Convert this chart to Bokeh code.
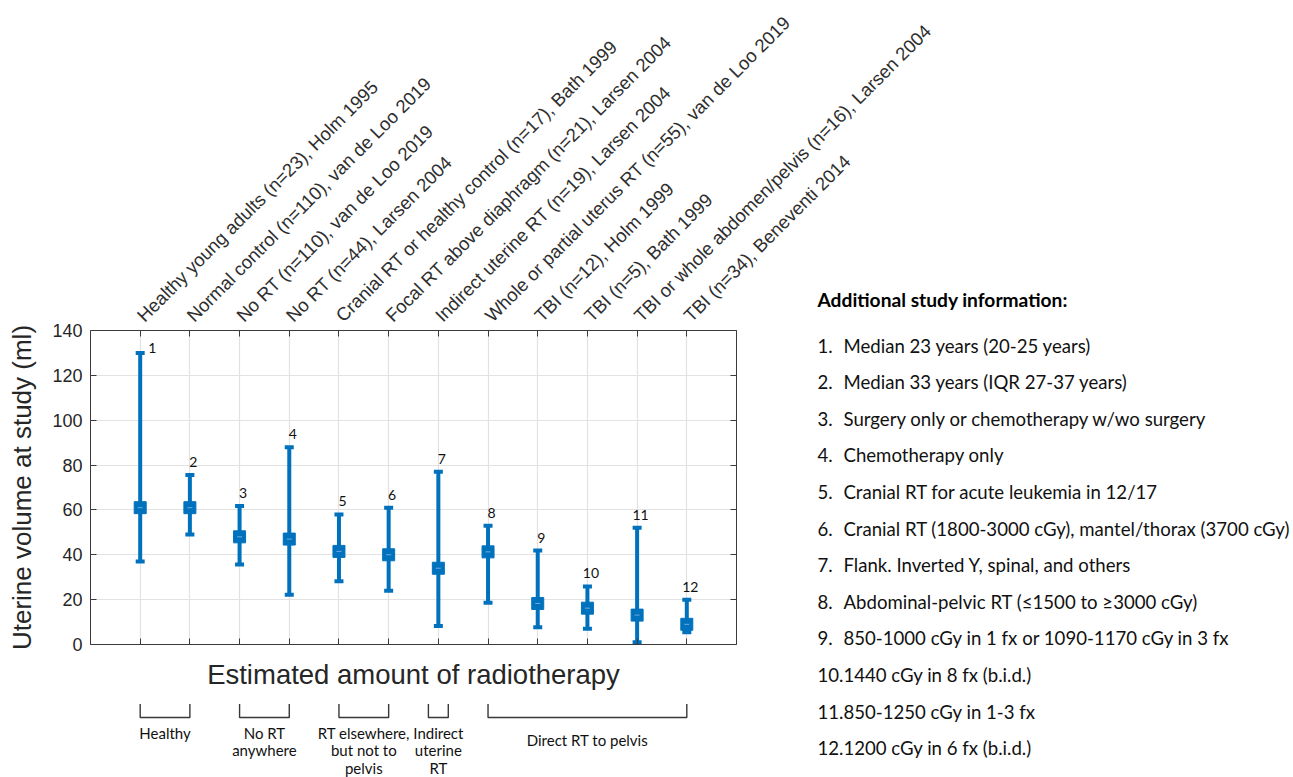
import math
from bokeh.plotting import figure
from bokeh.models import ColumnDataSource, Range1d, LinearAxis, FixedTicker
from bokeh.embed import file_html
from bokeh.resources import INLINE
from bokeh.core.properties import value

# ---------------- data ----------------
study_labels = [
    "Healthy young adults (n=23), Holm 1995",
    "Normal control (n=110), van de Loo 2019",
    "No RT (n=110), van de Loo 2019",
    "No RT (n=44), Larsen 2004",
    "Cranial RT or healthy control (n=17), Bath 1999",
    "Focal RT above diaphragm (n=21), Larsen 2004",
    "Indirect uterine RT (n=19), Larsen 2004",
    "Whole or partial uterus RT (n=55), van de Loo 2019",
    "TBI (n=12), Holm 1999",
    "TBI (n=5), Bath 1999",
    "TBI or whole abdomen/pelvis (n=16), Larsen 2004",
    "TBI (n=34), Beneventi 2014",
]
study_ids = ["1", "2", "3", "4", "5", "6", "7", "8", "9", "10", "11", "12"]
median_ml = [61, 61, 48, 47, 41.5, 40, 34, 41.3, 18.3, 16.2, 13.1, 9]
lower_ml = [37, 49, 35.7, 22.2, 28.2, 24, 8.2, 18.6, 7.7, 7, 1, 5.5]
upper_ml = [130, 75.6, 61.7, 88, 58, 61, 77, 52.9, 41.9, 25.9, 52, 19.9]
y_ticks = [0, 20, 40, 60, 80, 100, 120, 140]

group_lines = [["Healthy"], ["No RT", "anywhere"], ["RT elsewhere,", "but not to", "pelvis"],
               ["Indirect", "uterine", "RT"], ["Direct RT to pelvis"]]
group_first = [1, 3, 5, 7, 8]
group_last = [2, 4, 6, 7, 12]

notes_title = "Additional study information:"
notes = [
    "Median 23 years (20-25 years)",
    "Median 33 years (IQR 27-37 years)",
    "Surgery only or chemotherapy w/wo surgery",
    "Chemotherapy only",
    "Cranial RT for acute leukemia in 12/17",
    "Cranial RT (1800-3000 cGy), mantel/thorax (3700 cGy)",
    "Flank. Inverted Y, spinal, and others",
    "Abdominal-pelvic RT (\u22641500 to \u22653000 cGy)",
    "850-1000 cGy in 1 fx or 1090-1170 cGy in 3 fx",
    "1440 cGy in 8 fx (b.i.d.)",
    "850-1250 cGy in 1-3 fx",
    "1200 cGy in 6 fx (b.i.d.)",
]

# ---------------- layout / style constants ----------------
W, H = 1293, 777
FL, FT, FW, FH = 90, 330, 646, 314          # frame left/top/width/height (px)
BLUE = "#0072BD"
AXC = "#3a3a3a"
TXT = "#262626"
ARIAL = "Liberation Sans"
CAL = "Lato"

cats = list(range(1, len(study_labels) + 1))
XMAX = len(cats) + 1

p = figure(frame_width=FW, frame_height=FH,
           x_range=Range1d(0, XMAX), y_range=Range1d(0, 140),
           min_border_left=FL, min_border_right=W - FL - FW,
           min_border_top=FT, min_border_bottom=H - FT - FH,
           output_backend="svg", toolbar_location=None)
p.outline_line_color = None

def style_axis(ax, ticks, show_labels):
    ax.ticker = FixedTicker(ticks=ticks)
    ax.axis_line_color = AXC
    ax.axis_line_width = 1
    ax.major_tick_line_color = AXC
    ax.major_tick_in = 6
    ax.major_tick_out = 0
    ax.minor_tick_line_color = None
    ax.major_label_text_font = ARIAL
    ax.major_label_text_color = TXT
    if not show_labels:
        ax.major_label_text_font_size = "1px"
        ax.major_label_text_color = None
        ax.major_label_standoff = 0

# bottom axis
xb = p.xaxis[0]
style_axis(xb, cats, False)
xb.axis_label = "Estimated amount of radiotherapy"
xb.axis_label_text_font = ARIAL
xb.axis_label_text_font_size = "27.5px"
xb.axis_label_text_font_style = "normal"
xb.axis_label_text_color = TXT
xb.axis_label_standoff = 14

# left axis
yl = p.yaxis[0]
style_axis(yl, y_ticks, True)
yl.major_label_text_font_size = "18px"
yl.major_label_standoff = 8
yl.axis_label = "Uterine volume at study (ml)"
yl.axis_label_text_font = ARIAL
yl.axis_label_text_font_size = "26px"
yl.axis_label_text_font_style = "normal"
yl.axis_label_text_color = TXT
yl.axis_label_standoff = 12

# top axis with study names
xt = LinearAxis()
style_axis(xt, cats, True)
xt.major_label_overrides = {c: s for c, s in zip(cats, study_labels)}
xt.major_label_orientation = math.pi / 4
xt.major_label_text_font_size = "18.5px"
xt.major_label_text_color = "#2e2e2e"
xt.major_label_standoff = 12
p.add_layout(xt, "above")

# right axis (ticks only)
yr = LinearAxis()
style_axis(yr, y_ticks, False)
p.add_layout(yr, "right")

p.xgrid.ticker = FixedTicker(ticks=cats)
p.ygrid.ticker = FixedTicker(ticks=y_ticks)
for g in (p.xgrid, p.ygrid):
    g.grid_line_color = "#e2e2e2"
    g.grid_line_width = 1.2

# ---------------- error bars ----------------
src = ColumnDataSource(dict(
    x=cats, med=median_ml, lo=lower_ml, hi=upper_ml, lab=study_ids,
    xo=[12 if i == 0 else 3.5 for i in range(len(cats))],
    yo=[-5 if i == 0 else -13 for i in range(len(cats))],
))
p.segment(x0="x", y0="lo", x1="x", y1="hi", source=src, line_color=BLUE, line_width=4)
p.scatter(x="x", y="lo", source=src, marker="dash", size=9, line_color=BLUE, line_width=4)
p.scatter(x="x", y="hi", source=src, marker="dash", size=9, line_color=BLUE, line_width=4)
p.scatter(x="x", y="med", source=src, marker="square", size=12, fill_color=BLUE, line_color=BLUE)
p.scatter(x="x", y="med", source=src, marker="dash", size=5, line_color="#6fa9dd", line_width=1)
p.text(x="x", y="hi", text="lab", source=src, x_offset="xo", y_offset="yo",
       text_align="center", text_baseline="middle", text_color="#111111",
       text_font=value(CAL), text_font_size=value("14px"))

# ---------------- overlay figure for page annotations ----------------
ov = figure(width=W, height=H, x_range=Range1d(0, W), y_range=Range1d(H, 0),
            min_border_left=0, min_border_right=0, min_border_top=0, min_border_bottom=0,
            x_axis_location=None, y_axis_location=None,
            output_backend="svg", toolbar_location=None,
            styles={"position": "absolute", "left": "0px", "top": "0px"})
ov.grid.visible = False
ov.outline_line_color = None
ov.background_fill_color = None
ov.border_fill_color = None
ov.background_fill_alpha = 0
ov.border_fill_alpha = 0
# category scale of the main chart, expressed over the overlay canvas
upx = FW / XMAX
ov.extra_x_ranges = {"cat": Range1d(-FL / upx, (W - FL) / upx)}

# brackets under the axis
bx, by = [], []
lx, ly, lt = [], [], []
for lines, first, last in zip(group_lines, group_first, group_last):
    pad = 0.2 if first == last else 0.0
    x0, x1 = first - pad, last + pad
    top, bot = 703.5, 717
    bx.append([x0, x0, x1, x1])
    by.append([top, bot, bot, top])
    xc = (x0 + x1) / 2
    ys = [739] if (len(lines) == 1 and last - first > 2) else [732 + 17.5 * k for k in range(len(lines))]
    for t, yy in zip(lines, ys):
        lx.append(xc); ly.append(yy); lt.append(t)
ov.multi_line(xs=bx, ys=by, x_range_name="cat", line_color="#383838", line_width=1.4)
ov.text(x=lx, y=ly, text=lt, x_range_name="cat", text_align="center", text_baseline="middle",
        text_font=value(CAL), text_font_size=value("15px"), text_color="#111111")

# notes on the right
ov.text(x=[817], y=[299], text=[notes_title], text_align="left", text_baseline="middle",
        text_font=value(CAL), text_font_size=value("19.2px"), text_font_style="bold",
        text_color="#000000")
nx, ny, nt = [], [], []
for i, t in enumerate(notes):
    yy = 345 + 36.6 * i
    num = f"{i + 1}."
    if i < 9:
        nx += [817, 843]; ny += [yy, yy]; nt += [num, t]
    else:
        nx.append(817); ny.append(yy); nt.append(num + t)
ov.text(x=nx, y=ny, text=nt, text_align="left", text_baseline="middle",
        text_font=value(CAL), text_font_size=value("18.6px"), text_color="#111111")

open("out.html", "w").write(file_html([p, ov], INLINE))
